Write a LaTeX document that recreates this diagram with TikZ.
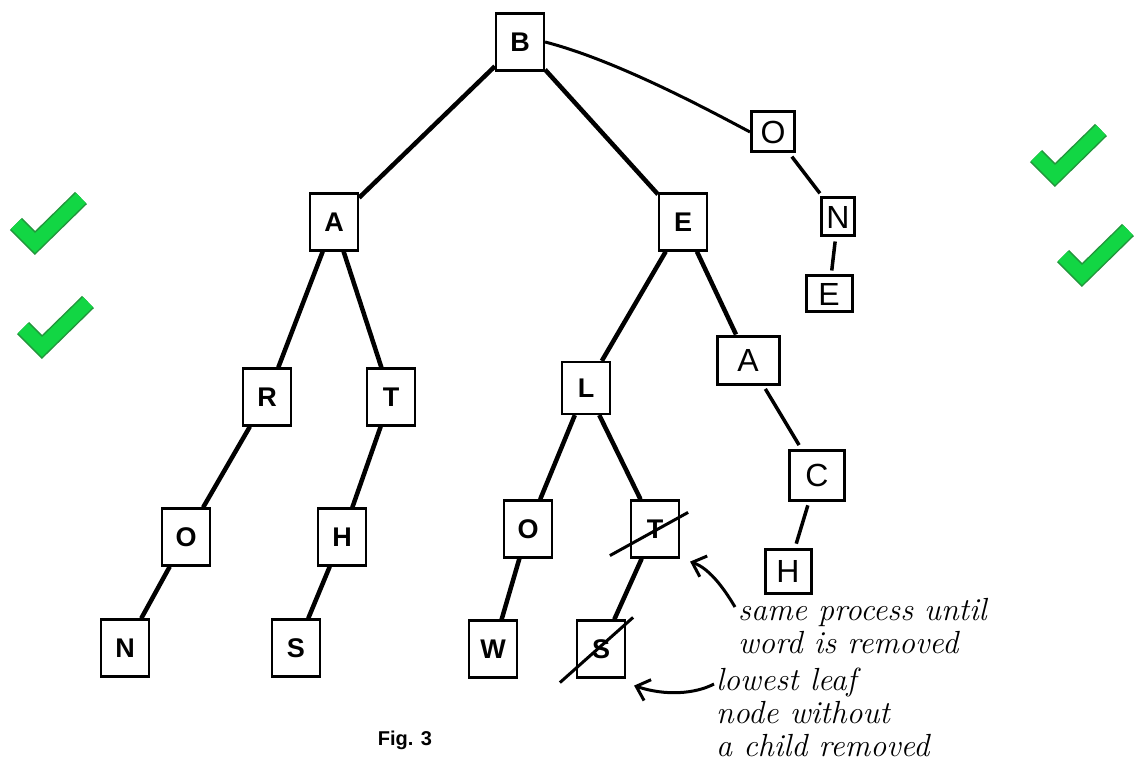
\documentclass[tikz,border=0pt]{standalone}
\usepackage{fontspec}
\usetikzlibrary{arrows.meta, calc}
\newfontfamily\arialfont{Liberation Sans}
\definecolor{tickgreen}{RGB}{18,214,68}
\definecolor{tickrim}{RGB}{34,150,60}

\tikzset{
  box/.style={draw, line width=2.2pt, minimum width=48pt, minimum height=57pt, inner sep=0pt, font=\arialfont\fontsize{27}{27}\selectfont\bfseries},
  hbox/.style={draw, line width=3pt, inner sep=0pt, font=\arialfont\fontsize{32}{32}\selectfont},
  branch/.style={line width=4.5pt},
  hbranch/.style={line width=3.5pt, shorten <=4pt, shorten >=4pt},
  strike/.style={line width=3pt},
  note/.style={font=\fontsize{32}{33}\selectfont\itshape, align=left, anchor=north west, inner sep=0pt},
  notearrow/.style={line width=3pt, -{Straight Barb[length=12pt,width=22pt,line width=3pt]}},
}

\begin{document}
\begin{tikzpicture}[x=1pt, y=-1pt]
    \useasboundingbox (0,0) rectangle (1136,770);
    % printed tree
    \node[box] (b) at (520,42) {B};
    \node[box] (a) at (334,222) {A};
    \node[box] (e) at (683,222) {E};
    \node[box] (r) at (267,397) {R};
    \node[box] (t) at (391,397) {T};
    \node[box, minimum height=52pt] (l) at (586,388) {L};
    \node[box] (o1) at (186,537) {O};
    \node[box] (h) at (342,537) {H};
    \node[box] (o2) at (528,529) {O};
    \node[box] (t2) at (655,529) {T};
    \node[box] (n) at (125,648) {N};
    \node[box] (s1) at (296,648) {S};
    \node[box] (w) at (493,649) {W};
    \node[box] (s2) at (601,649) {S};
    % handwritten additions
    \node[hbox, minimum width=43pt, minimum height=40pt] (ho) at (773,132) {O};
    \node[hbox, minimum width=33pt, minimum height=38pt] (hn) at (838,217) {N};
    \node[hbox, minimum width=46pt, minimum height=36pt] (he) at (829,294) {E};
    \node[hbox, minimum width=62pt, minimum height=48pt] (ha) at (748,360) {A};
    \node[hbox, minimum width=55pt, minimum height=50pt] (hc) at (817,475) {C};
    \node[hbox, minimum width=46pt, minimum height=44pt] (hh) at (788,571) {H};
    \foreach \p/\c in {b/a, b/e, a/r, a/t, e/l, e/ha, r/o1, t/h, l/o2, l/t2, o1/n, h/s1, o2/w, t2/s2}
      \draw[branch] (\p) -- (\c);
    \foreach \p/\c in {ho/hn, hn/he, ha/hc, hc/hh}
      \draw[hbranch] (\p) -- (\c);
    \draw[branch, line width=3pt] (b.east) .. controls (615,60) and (705,108) .. (ho.west);
    % crossed out
    \draw[strike] ($(t2.south west)+(-20,-3)$) -- ($(t2.north east)+(8,13)$);
    \draw[strike] ($(s2.south west)+(-16,4)$) -- ($(s2.north east)+(7,-2)$);
    % notes
    \node[note] (note1) at (738,598) {same process until\\word is removed};
    \node[note] (note2) at (716,668) {lowest leaf\\node without\\a child removed};
    \coordinate (tail1) at (735,607);
    \coordinate (tail2) at (714,684);
    \draw[notearrow] (tail1) .. controls (722,585) and (708,568) .. ([shift={(10,3)}]t2.south east);
    \draw[notearrow] (tail2) .. controls (695,694) and (665,696) .. ([shift={(8,7)}]s2.south east);
    % check marks
    \foreach \x/\y in {35/243, 42/347, 1055/175, 1082/275} {
      \draw[tickrim, line width=17pt] (\x-19,\y-19) -- (\x,\y) -- (\x+46,\y-45);
      \draw[tickgreen, line width=14pt] (\x-19,\y-19) -- (\x,\y) -- (\x+46,\y-45);
    }
    \node[font=\arialfont\fontsize{20}{20}\selectfont\bfseries] (fig) at (405,740) {Fig. 3};
\end{tikzpicture}
\end{document}
